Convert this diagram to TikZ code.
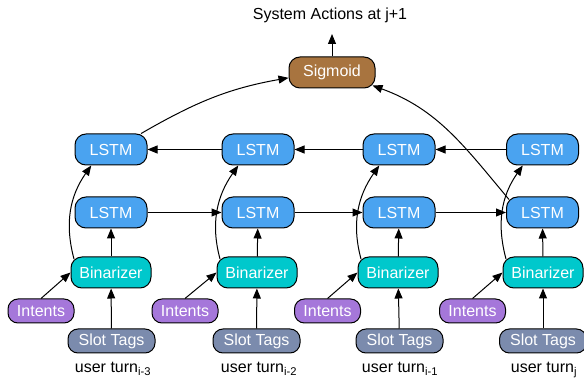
\documentclass[tikz,border=0pt]{standalone}
\usepackage{fontspec}
\setmainfont{Liberation Sans}
\usepackage{xcolor}
\usetikzlibrary{arrows.meta,calc}

\definecolor{lstmblue}{HTML}{4AA3F0}
\definecolor{binteal}{HTML}{00C8CC}
\definecolor{intpurple}{HTML}{A577DA}
\definecolor{slotgray}{HTML}{7B8BAD}
\definecolor{sigbrown}{HTML}{A8743F}

\begin{document}
\begin{tikzpicture}[x=1pt,y=1pt]
		\tikzstyle{every node}+=[inner sep=0pt, font=\fontsize{16}{19}\selectfont]
		\tikzstyle{box}=[draw=black, line width=1pt, text=white, minimum height=31pt, rounded corners=11pt]
		\tikzstyle{small}=[box, minimum height=24pt, rounded corners=10pt]
		\tikzstyle{lstm}=[box, fill=lstmblue, minimum width=72pt]
		\tikzstyle{binar}=[box, fill=binteal, minimum width=80pt]
		\tikzstyle{sigm}=[box, fill=sigbrown, minimum width=86pt]
		\tikzstyle{intents}=[small, fill=intpurple, minimum width=66pt]
		\tikzstyle{slottags}=[small, fill=slotgray, minimum width=87pt]
		\tikzstyle{arr}=[draw=black, line width=1pt, -{Triangle[length=10pt,width=8pt]}]
		\useasboundingbox (0,0) rectangle (584,-379);
		% output
		\node [anchor=base] (title) at (330,-20) {System Actions at j+1};
		\coordinate (top) at (332,-34);
		\node [sigm] (sig) at (332,-72.5) {Sigmoid};
		% backward LSTM row
		\node [lstm] (lb1) at (111,-149.5) {LSTM};
		\node [lstm] (lb2) at (258,-149.5) {LSTM};
		\node [lstm] (lb3) at (399,-149.5) {LSTM};
		\node [lstm] (lb4) at (542.5,-149.5) {LSTM};
		% forward LSTM row
		\node [lstm] (lf1) at (111,-212.5) {LSTM};
		\node [lstm] (lf2) at (258,-212.5) {LSTM};
		\node [lstm] (lf3) at (399,-212.5) {LSTM};
		\node [lstm] (lf4) at (542.5,-212.5) {LSTM};
		% binarizers
		\node [binar] (bin1) at (111,-272.5) {Binarizer};
		\node [binar] (bin2) at (257,-272.5) {Binarizer};
		\node [binar] (bin3) at (398,-272.5) {Binarizer};
		\node [binar] (bin4) at (543,-272.5) {Binarizer};
		% inputs
		\node [intents] (int1) at (41,-311) {Intents};
		\node [intents] (int2) at (185,-311) {Intents};
		\node [intents] (int3) at (327.5,-311) {Intents};
		\node [intents] (int4) at (472.5,-311) {Intents};
		\node [slottags] (st1) at (111.5,-341) {Slot Tags};
		\node [slottags] (st2) at (256.5,-341) {Slot Tags};
		\node [slottags] (st3) at (399.5,-341) {Slot Tags};
		\node [slottags] (st4) at (543,-341) {Slot Tags};
		\node [anchor=base] (turn1) at (113,-373) {user turn\textsubscript{i-3}};
		\node [anchor=base] (turn2) at (259,-373) {user turn\textsubscript{i-2}};
		\node [anchor=base] (turn3) at (400,-373) {user turn\textsubscript{i-1}};
		\node [anchor=base] (turn4) at (544,-373) {user turn\textsubscript{j}};
		% inputs to binarizers
		\draw [arr] (int1.north) -- (bin1.west);
		\draw [arr] (int2.north) -- (bin2.west);
		\draw [arr] (int3.north) -- (bin3.west);
		\draw [arr] (int4.north) -- (bin4.west);
		\draw [arr] (st1) -- (bin1);
		\draw [arr] (st2) -- (bin2);
		\draw [arr] (st3) -- (bin3);
		\draw [arr] (st4) -- (bin4);
		% binarizers to LSTMs
		\draw [arr] (bin1) -- (lf1);
		\draw [arr] (bin2) -- (lf2);
		\draw [arr] (bin3) -- (lf3);
		\draw [arr] (bin4) -- (lf4);
		\draw [arr] ($(bin1.north west)+(3.5,-2.5)$) to [out=105,in=235] (lb1.219);
		\draw [arr] ($(bin2.north west)+(3.5,-2.5)$) to [out=105,in=235] (lb2.219);
		\draw [arr] ($(bin3.north west)+(3.5,-2.5)$) to [out=105,in=235] (lb3.219);
		\draw [arr] ($(bin4.north west)+(3.5,-2.5)$) to [out=105,in=235] (lb4.219);
		% recurrences
		\draw [arr] (lf1) -- (lf2);
		\draw [arr] (lf2) -- (lf3);
		\draw [arr] (lf3) -- (lf4);
		\draw [arr] (lb4) -- (lb3);
		\draw [arr] (lb3) -- (lb2);
		\draw [arr] (lb2) -- (lb1);
		% to sigmoid
		\draw [arr] (lb1.28) to [out=30,in=190] (sig.187);
		\draw [arr] ($(lf4.north west)+(3,-3)$) to [out=130,in=-20] ($(sig.south east)+(-3,3)$);
		\draw [arr] (sig) -- (top);
	\end{tikzpicture}
\end{document}
